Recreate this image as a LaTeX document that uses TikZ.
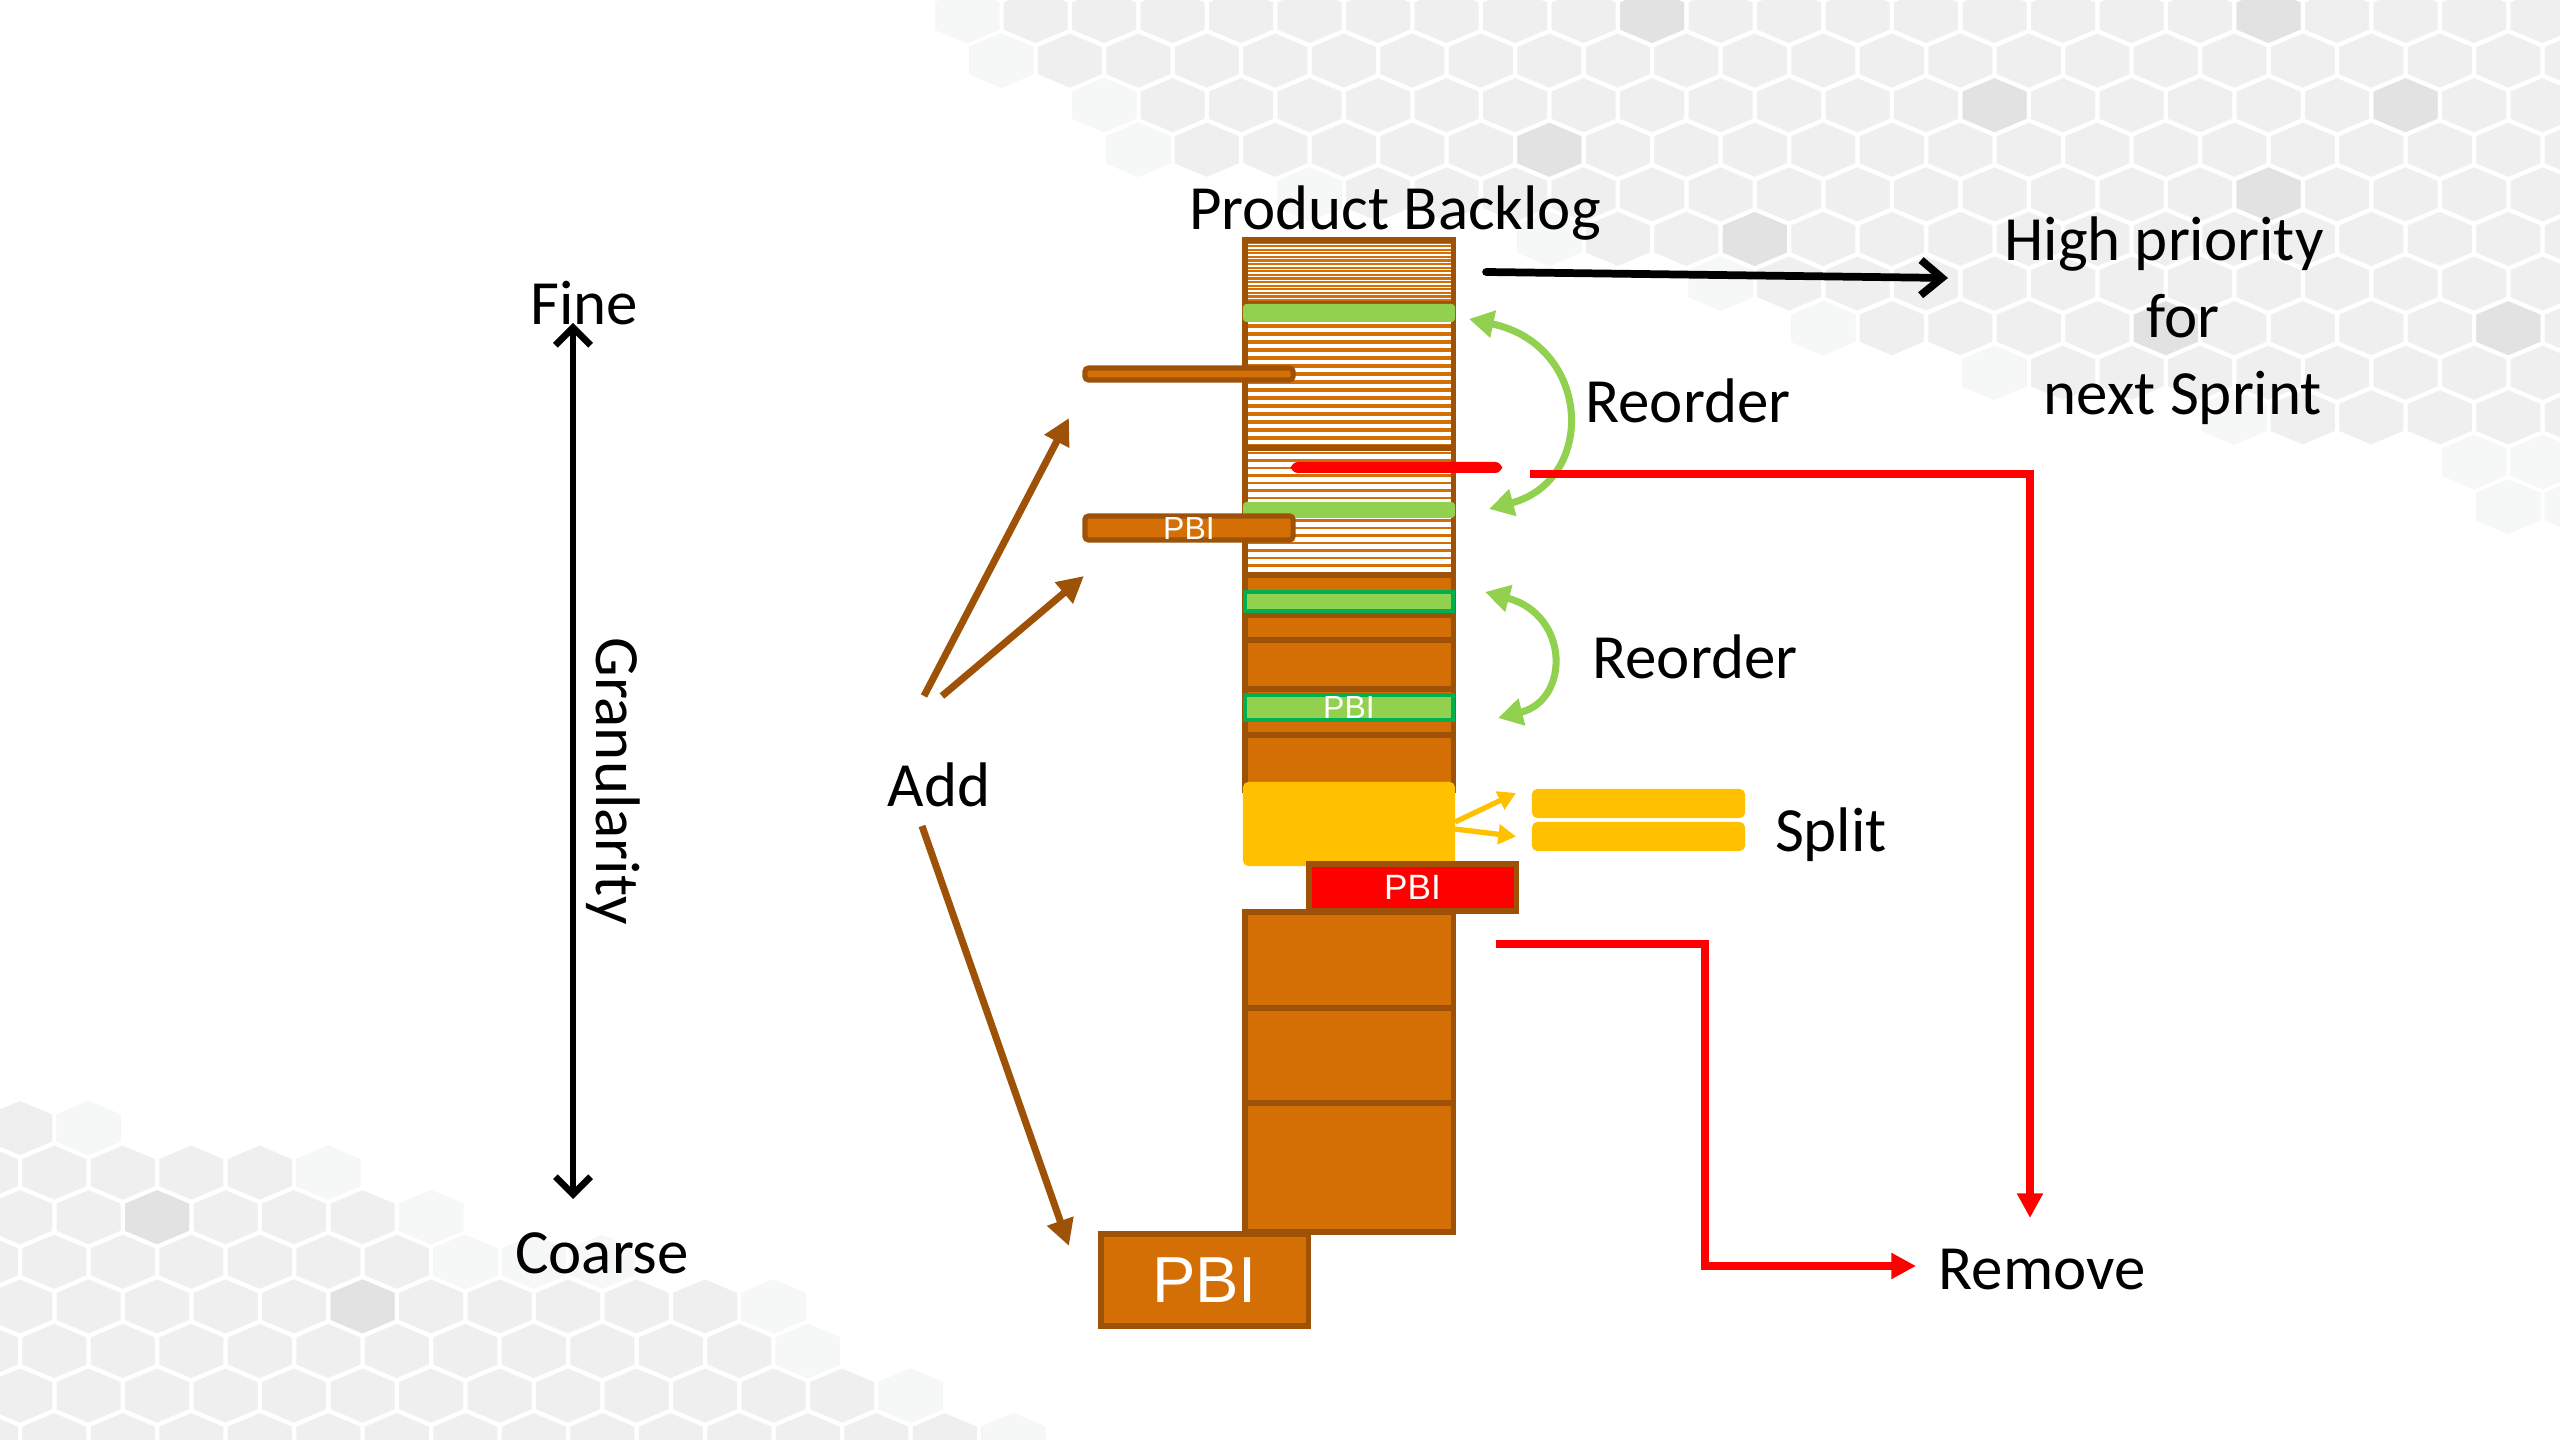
\documentclass[tikz,border=0pt]{standalone}
\usepackage{fontspec}
\setmainfont{Carlito}
\newfontfamily\pbifont{Liberation Sans}
\usetikzlibrary{arrows.meta,calc}

\definecolor{pbOrange}{RGB}{212,111,6}
\definecolor{pbBrown}{RGB}{158,82,8}
\definecolor{pbLime}{RGB}{146,208,80}
\definecolor{pbGreen}{RGB}{0,176,80}
\definecolor{pbYellow}{RGB}{255,192,0}
\definecolor{pbRed}{RGB}{255,0,0}
\definecolor{hexA}{RGB}{239,239,239}
\definecolor{hexB}{RGB}{226,226,226}
\definecolor{hexC}{RGB}{246,247,247}

% label font: Calibri metrics, about 63px in the picture's units
\newcommand\lblfont{\fontsize{17.9}{21.9}\selectfont}

% one background honeycomb cell, pointy top, centred at (#1,#2)
\newcommand\hexcell[3]{\fill[#3] (#1,#2) ++(0,-27) -- ++(32,13.5) -- ++(0,27) -- ++(-32,13.5) -- ++(-32,-13.5) -- ++(0,-27) -- cycle;}

% rectangle node given by its corners (x1,y1)-(x2,y2) in px
\newcommand\pxnode[7]{%
  \pgfmathsetmacro\pxW{(#4-#2)/100}%
  \pgfmathsetmacro\pxH{(#5-#3)/100}%
  \node[#6, minimum width=\pxW cm, minimum height=\pxH cm] (#1) at ({(#2+#4)/2},{(#3+#5)/2}) {#7};%
}

\tikzset{
  blk/.style={rectangle, inner sep=0pt, outer sep=0pt},
  ob/.style={blk, fill=pbOrange, draw=pbBrown, line width=1.45pt},
  frame/.style={blk, draw=pbBrown, line width=1.45pt},
  gbar/.style={blk, fill=pbLime, rounded corners=1pt},
  gbox/.style={blk, fill=pbLime, draw=pbGreen, line width=1.2pt},
  ybar/.style={blk, fill=pbYellow, rounded corners=1.5pt},
  pbi/.style={text=white, font=\pbifont\fontsize{9.1}{10}\selectfont},
  lbl/.style={inner sep=0pt, outer sep=0pt, anchor=base, font=\lblfont},
  addArrow/.style={draw=pbBrown, line width=2pt, -{Triangle[length=7.5pt,width=7.5pt]}},
  reArrow/.style={draw=pbLime, line width=2pt, {Triangle[length=7pt,width=7.5pt]}-{Triangle[length=7pt,width=7.5pt]}},
  spArrow/.style={draw=pbYellow, line width=1.5pt, -{Triangle[length=5pt,width=5.5pt]}},
  rmArrow/.style={draw=pbRed, line width=2.1pt, -{Triangle[length=7pt,width=7pt]}},
  hpArrow/.style={draw=black, line width=2.2pt, line cap=round, -{Straight Barb[length=6pt,width=10pt]}},
  gArrow/.style={draw=black, line width=1.9pt, {Straight Barb[length=5pt,width=10pt]}-{Straight Barb[length=5pt,width=10pt]}},
}

\begin{document}
\begin{tikzpicture}[x=0.01cm, y=-0.01cm]
\useasboundingbox (0,0) rectangle (2560,1440);
\fill[white] (0,0) rectangle (2560,1440);

% ---- honeycomb, upper right ----
\foreach \r/\cs in {0/0,1/0,2/2,3/2,4/5,5/8,6/11,7/12,8/15,9/18,10/22,11/22}{
  \foreach \c in {\cs,...,24}{
    \pgfmathsetmacro\hx{967+68.5*\c+34.25*mod(\r,2)}
    \pgfmathsetmacro\hy{16+44.6*\r}
    \hexcell{\hx}{\hy}{hexA}
  }
}
\foreach \r/\c/\col in {0/0/hexC,1/0/hexC,2/2/hexC,3/2/hexC,4/5/hexC,5/8/hexC,6/11/hexC,
    7/12/hexC,8/15/hexC,9/18/hexC,10/22/hexC,10/23/hexC,10/24/hexC,11/22/hexC,11/23/hexC,
    2/15/hexB,3/8/hexB,5/11/hexB,0/19/hexB,2/21/hexB,4/19/hexB,7/22/hexB,7/17/hexB,0/10/hexB}{
  \pgfmathsetmacro\hx{967+68.5*\c+34.25*mod(\r,2)}
  \pgfmathsetmacro\hy{16+44.6*\r}
  \hexcell{\hx}{\hy}{\col}
}

% ---- honeycomb, lower left ----
\foreach \k/\ce in {0/1,1/4,2/6,3/6,4/11,5/11,6/13,7/14}{
  \foreach \c in {-1,...,\ce}{
    \pgfmathsetmacro\hx{20+68.5*\c+34.25*mod(\k,2)}
    \pgfmathsetmacro\hy{1128+44.6*\k}
    \hexcell{\hx}{\hy}{hexA}
  }
}
\foreach \k/\c/\col in {0/1/hexC,1/4/hexC,2/6/hexC,3/6/hexC,3/7/hexC,3/8/hexC,4/11/hexC,
    5/11/hexC,6/13/hexC,7/14/hexC,2/2/hexB,4/5/hexB}{
  \pgfmathsetmacro\hx{20+68.5*\c+34.25*mod(\k,2)}
  \pgfmathsetmacro\hy{1128+44.6*\k}
  \hexcell{\hx}{\hy}{\col}
}

% ---- product backlog: striped upper part ----
\fill[white] (1245,240) rectangle (1453,575);
\foreach \y in {242.5,246.1,...,302} \draw[pbOrange, line width=0.62pt] (1245,\y) -- (1453,\y);
\foreach \y in {326,334,...,446} \draw[pbOrange, line width=1.15pt] (1245,\y) -- (1453,\y);
\foreach \y in {453,460.5,...,573} \draw[pbOrange, line width=0.6pt] (1245,\y) -- (1453,\y);
\pxnode{secA}{1245}{240}{1453}{304}{frame}{}
\pxnode{secB}{1245}{304}{1453}{448}{frame}{}
\pxnode{secC}{1245}{448}{1453}{575}{frame}{}

\pxnode{g1}{1243}{304}{1455}{322}{gbar}{}
\pxnode{g2}{1243}{502}{1455}{518}{gbar}{}
\pxnode{rb}{1291}{462}{1502}{473}{blk, fill=pbRed, rounded corners=2pt}{}

% items being added
\pxnode{pbar1}{1085}{368}{1293}{380}{ob, rounded corners=1pt}{}
\pxnode{pbar2}{1085}{516}{1293}{540}{ob, rounded corners=1pt, pbi}{PBI}

% ---- product backlog: solid lower part ----
\pxnode{blk0}{1245}{575}{1453}{615}{ob}{}
\pxnode{blk1}{1245}{615}{1453}{640}{ob}{}
\pxnode{blk2}{1245}{640}{1453}{689}{ob}{}
\pxnode{blk3}{1245}{689}{1453}{735}{ob}{}
\pxnode{blk4}{1245}{735}{1453}{790}{ob}{}
\pxnode{g3}{1245}{592}{1453}{611}{gbox}{}
\pxnode{gp}{1245}{695}{1453}{720}{gbox, pbi}{PBI}
\pxnode{yel}{1243}{782}{1455}{866}{ybar}{}
\pxnode{blk5}{1245}{912}{1453}{1008}{ob}{}
\pxnode{blk6}{1245}{1008}{1453}{1103}{ob}{}
\pxnode{blk7}{1245}{1103}{1453}{1232}{ob}{}
\pxnode{rp}{1309}{864}{1516}{911}{ob, fill=pbRed, text=white, font=\pbifont\fontsize{10}{11}\selectfont}{PBI}
\pxnode{big}{1101}{1234}{1308}{1326}{ob, text=white, font=\pbifont\fontsize{18.5}{20}\selectfont}{PBI}

% split result
\pxnode{sp1}{1532}{789}{1745}{818}{ybar}{}
\pxnode{sp2}{1532}{822}{1745}{851}{ybar}{}

% ---- labels ----
\node[lbl] (pb) at (1395,230) {Product Backlog};
\node[lbl, align=center] (hp) at (2183,415) {High priority\kern10.8pt\\for\\next Sprint};
\node[lbl] (fine) at (584,325) {Fine};
\node[lbl] (coarse) at (602,1273) {Coarse};
\node[lbl, rotate=-90] (gran) at (596,781) {Granularity};
\node[lbl] (add) at (939,807) {Add};
\node[lbl] (re1) at (1688,423) {Reorder};
\node[lbl] (re2) at (1695,679) {Reorder};
\node[lbl] (split) at (1831,852) {Split};
\node[lbl] (rm) at (2042,1289) {Remove};

% free ends of connectors
\coordinate (hpTip) at (1948,278);
\coordinate (rmTip1) at (2030,1218);
\coordinate (rmTip2) at (1916,1266);

% ---- connectors ----
\draw[hpArrow] ($(secA.east)+(33,0)$) -- (hpTip);
\draw[gArrow] ($(fine.base)+(-11,-2)$) -- ($(coarse.base)+(-29,-74)$);

\draw[addArrow] ($(add.base)+(-15,-111)$) -- ($(pbar1.south west)+(-16,38)$);
\draw[addArrow] ($(add.base)+(3,-111)$) -- ($(pbar2.south west)+(-1,36)$);
\draw[addArrow] ($(add.base)+(-17,19)$) -- ($(big.north west)+(-32,12)$);

\draw[reArrow] ($(g1.east)+(14,6)$) .. controls (1592,345) and (1597,480) .. ($(g2.east)+(34,-1)$);
\draw[reArrow] ($(g3.east)+(32,-9.5)$) .. controls (1570,615) and (1570,700) .. ($(gp.east)+(45,10.5)$);

\draw[spArrow] ($(yel.east)+(0,-2)$) -- ($(sp1.west)+(-16,-10.5)$);
\draw[spArrow] ($(yel.east)+(0,5)$) -- ($(sp2.west)+(-16,0)$);

\draw[rmArrow] ($(rb.east)+(28,6.5)$) -| (rmTip1);
\draw[rmArrow] ($(rp.south east)+(-20,33)$) -- ++(209,0) |- (rmTip2);
\end{tikzpicture}
\end{document}
